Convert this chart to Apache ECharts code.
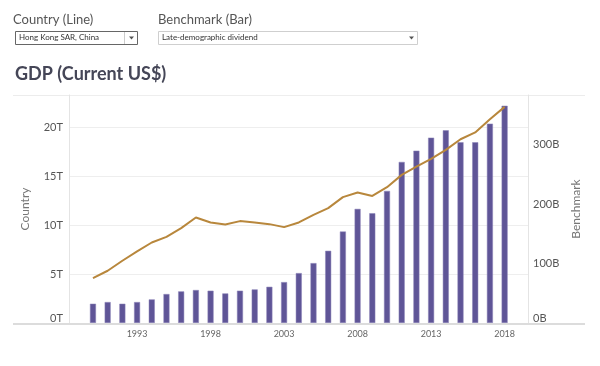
<!DOCTYPE html>
<html>
<head>
<meta charset="utf-8">
<script src="https://cdn.jsdelivr.net/npm/echarts@6/dist/echarts.min.js"></script>
<style>
html,body{margin:0;padding:0;background:#fff;}
#chart{width:600px;height:366px;}
</style>
</head>
<body>
<div id="chart"></div>
<script>
// Data
var years = [1990,1991,1992,1993,1994,1995,1996,1997,1998,1999,2000,2001,2002,2003,2004,2005,2006,2007,2008,2009,2010,2011,2012,2013,2014,2015,2016,2017,2018];
// Bars: Late-demographic dividend GDP, trillions US$ (left axis "Country")
var barValuesT = [1.97,2.14,1.97,2.14,2.41,2.96,3.23,3.37,3.30,3.02,3.30,3.43,3.70,4.18,5.10,6.12,7.38,9.35,11.66,11.22,13.5,16.46,17.61,18.94,19.69,18.47,18.47,20.37,22.2];
// Line: Hong Kong SAR, China GDP, billions US$ (right axis "Benchmark")
var lineValuesB = [75.7,88,104.8,120.5,135.6,145,159.8,177.7,169.3,165.9,171.6,169.3,166.5,161.5,169.3,182,193.4,212,219.7,214,228.8,249.5,263.4,276.4,291.5,309.5,321,343,364];
var xTickLabels = [1993,1998,2003,2008,2013,2018];
var countryChoice = 'Hong Kong SAR, China';
var benchmarkChoice = 'Late-demographic dividend';

var FONT = 'Lato, "Open Sans", sans-serif';
var barData = years.map(function(y,i){return [y, barValuesT[i]*1e12];});
var lineData = years.map(function(y,i){return [y, lineValuesB[i]*1e9];});

var chart = echarts.init(document.getElementById('chart'));
chart.setOption({
  animation:false,
  textStyle:{fontFamily:FONT},
  grid:{left:69,right:72,top:95,bottom:43,containLabel:false},
  xAxis:{
    type:'value', min:1988.37, max:2019.59,
    axisLine:{show:false}, axisTick:{show:false}, splitLine:{show:false},
    axisLabel:{customValues:xTickLabels, color:'#666', fontSize:9, margin:7, fontFamily:FONT,
      formatter:function(v){return String(v);}}
  },
  yAxis:[{
    type:'value', min:0, max:23.3e12, interval:5e12, position:'left',
    name:'Country', nameLocation:'middle', nameGap:38,
    nameTextStyle:{color:'#777', fontSize:12, fontFamily:FONT},
    axisLine:{show:true, lineStyle:{color:'#e4e4e4', width:1}},
    axisTick:{show:false},
    splitLine:{show:true, lineStyle:{color:'#eeeeee', width:1}},
    axisLabel:{color:'#555', fontSize:11, margin:6, showMaxLabel:false, fontFamily:FONT,
      formatter:function(v){ var s=Math.round(v/1e12)+'T'; return v===0?'{z|'+s+'}':s; },
      rich:{z:{padding:[0,0,10,0], color:'#555', fontSize:11, fontFamily:FONT}}}
  },{
    type:'value', min:0, max:384e9, interval:100e9, position:'right',
    name:'Benchmark', nameLocation:'middle', nameGap:40,
    nameTextStyle:{color:'#777', fontSize:12, fontFamily:FONT},
    axisLine:{show:true, lineStyle:{color:'#e4e4e4', width:1}},
    axisTick:{show:false},
    splitLine:{show:false},
    axisLabel:{color:'#555', fontSize:11, margin:5, showMaxLabel:false, fontFamily:FONT,
      formatter:function(v){ var s=Math.round(v/1e9)+'B'; return v===0?'{z|'+s+'}':s; },
      rich:{z:{padding:[0,0,10,0], color:'#555', fontSize:11, fontFamily:FONT}}}
  }],
  series:[{
    type:'bar', name:benchmarkChoice, yAxisIndex:0, data:barData, barWidth:6,
    itemStyle:{color:'#5f5597', borderColor:'#8c84b8', borderWidth:0.5}
  },{
    type:'line', name:countryChoice, yAxisIndex:1, data:lineData, showSymbol:false, symbol:'none',
    lineStyle:{color:'#b8873c', width:2}, z:5
  }],
  graphic:[
    {type:'text', left:13, top:13, style:{text:'Country (Line)', fill:'#555', font:'13px '+FONT}},
    {type:'text', left:158, top:13, style:{text:'Benchmark (Bar)', fill:'#555', font:'13px '+FONT}},
    {type:'rect', shape:{x:15.5, y:31.5, width:122, height:13}, style:{fill:'#fff', stroke:'#666', lineWidth:1}},
    {type:'line', shape:{x1:124.5, y1:32, x2:124.5, y2:44}, style:{stroke:'#ccc', lineWidth:1}},
    {type:'polygon', shape:{points:[[129,36.5],[134,36.5],[131.5,39.5]]}, style:{fill:'#555'}},
    {type:'text', left:19, top:33, style:{text:countryChoice, fill:'#333', font:'8px '+FONT}},
    {type:'rect', shape:{x:158.5, y:31.5, width:259, height:13}, style:{fill:'#fff', stroke:'#cfcfcf', lineWidth:1}},
    {type:'polygon', shape:{points:[[409,36.5],[414,36.5],[411.5,39.5]]}, style:{fill:'#555'}},
    {type:'text', left:162, top:33, style:{text:benchmarkChoice, fill:'#333', font:'8px '+FONT}},
    {type:'text', left:15, top:65, style:{text:'GDP (Current US$)', fill:'#454657', font:'bold 18px '+FONT}},
    {type:'line', shape:{x1:13, y1:95.5, x2:585, y2:95.5}, style:{stroke:'#ececec', lineWidth:1}},
    {type:'line', shape:{x1:13, y1:324, x2:585, y2:324}, style:{stroke:'#dcdcdc', lineWidth:2}, z:10}
  ]
});
</script>
</body>
</html>
